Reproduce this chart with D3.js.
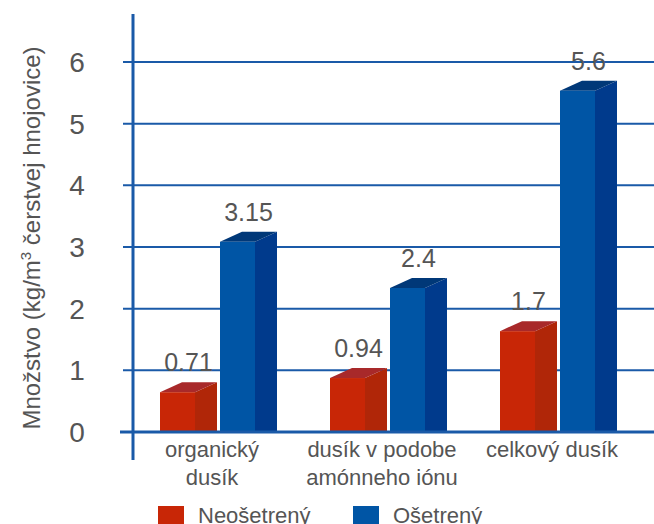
<!DOCTYPE html>
<html>
<head>
<meta charset="utf-8">
<script src="https://cdn.jsdelivr.net/npm/d3@7/dist/d3.min.js"></script>
<style>
  html, body { margin: 0; padding: 0; background: #fff; }
  svg { display: block; font-family: "Liberation Sans", Arial, sans-serif; }
</style>
</head>
<body>
<svg id="chart" width="654" height="524"></svg>
<script>
// Nitrogen content of fresh slurry, untreated vs treated
const categories = [["organický", "dusík"], ["dusík v podobe", "amónneho iónu"], ["celkový dusík"]];
const seriesNames = ["Neošetrený", "Ošetrený"];
const untreated = [0.71, 0.94, 1.7];
const treated = [3.15, 2.4, 5.6];
const yTicks = [0, 1, 2, 3, 4, 5, 6];

const svg = d3.select("#chart");
const W = 654, H = 524;
const plot = { left: 133, top: 62, bottom: 432 };

const x = d3.scaleBand().domain(d3.range(categories.length)).range([127, 637]);
const y = d3.scaleLinear().domain([0, 6]).range([plot.bottom, plot.top]);

const gridColor = "#1a5aa8";
const textColor = "#555555";
const depthX = 22, depthY = 10, faceW = 35;
const seriesOffset = [-52, 8];

const palette = [
  { front: "#c82606", side: "#b02608", top: "#a8292a" },
  { front: "#0055a5", side: "#003a8c", top: "#003878" }
];

// gridlines along the back wall
svg.append("g").selectAll("line").data(yTicks.filter(d => d > 0)).join("line")
  .attr("x1", plot.left - 10).attr("x2", W)
  .attr("y1", d => y(d)).attr("y2", d => y(d))
  .attr("stroke", gridColor).attr("stroke-width", 2);

// y axis labels
svg.append("g").selectAll("text").data(yTicks).join("text")
  .attr("x", 77).attr("y", d => y(d) + 10)
  .attr("text-anchor", "middle")
  .attr("font-size", 28).attr("fill", textColor)
  .text(d => d);

// 3D columns
const bars = [];
categories.forEach((c, i) => {
  const cx = x(i) + x.bandwidth() / 2;
  bars.push({ v: untreated[i], s: 0, x0: cx + seriesOffset[0] });
  bars.push({ v: treated[i], s: 1, x0: cx + seriesOffset[1] });
});

const gBars = svg.append("g");
bars.forEach(b => {
  const col = palette[b.s];
  const yt = y(b.v) + 4;
  const x0 = b.x0, x1 = b.x0 + faceW;
  const base = plot.bottom;
  // side face
  gBars.append("path")
    .attr("d", `M${x1},${yt} L${x1 + depthX},${yt - depthY} L${x1 + depthX},${base} L${x1},${base} Z`)
    .attr("fill", col.side);
  // top face
  gBars.append("path")
    .attr("d", `M${x0},${yt} L${x1},${yt} L${x1 + depthX},${yt - depthY} L${x0 + depthX},${yt - depthY} Z`)
    .attr("fill", col.top);
  // front face
  gBars.append("rect")
    .attr("x", x0).attr("y", yt).attr("width", faceW).attr("height", base - yt)
    .attr("fill", col.front);
  // value label
  gBars.append("text")
    .attr("x", x0 + (faceW + depthX) / 2).attr("y", yt - depthY - 11)
    .attr("text-anchor", "middle")
    .attr("font-size", 25).attr("fill", textColor)
    .text(b.v);
});

// baseline and vertical axis
svg.append("line")
  .attr("x1", plot.left - 13).attr("x2", W)
  .attr("y1", y(0)).attr("y2", y(0))
  .attr("stroke", gridColor).attr("stroke-width", 3);
svg.append("line")
  .attr("x1", plot.left).attr("x2", plot.left)
  .attr("y1", 14).attr("y2", 460)
  .attr("stroke", gridColor).attr("stroke-width", 3);

// category labels
const gCat = svg.append("g");
categories.forEach((lines, i) => {
  const cx = x(i) + x.bandwidth() / 2;
  const t = gCat.append("text")
    .attr("x", cx).attr("y", 457)
    .attr("text-anchor", "middle")
    .attr("font-size", 22).attr("fill", textColor);
  lines.forEach((ln, k) => {
    t.append("tspan").attr("x", cx).attr("dy", k === 0 ? 0 : 28).text(ln);
  });
});

// y axis title
const yTitle = svg.append("text")
  .attr("transform", "translate(40,238) rotate(-90)")
  .attr("text-anchor", "middle")
  .attr("font-size", 24).attr("fill", textColor);
yTitle.append("tspan").text("Množstvo (kg/m");
yTitle.append("tspan").attr("font-size", 15).attr("dy", -9).text("3");
yTitle.append("tspan").attr("dy", 9).text(" čerstvej hnojovice)");

// legend
const legendX = [158, 353];
seriesNames.forEach((name, i) => {
  svg.append("rect")
    .attr("x", legendX[i]).attr("y", 506).attr("width", 26).attr("height", 26)
    .attr("fill", palette[i].front);
  svg.append("text")
    .attr("x", legendX[i] + 40).attr("y", 523)
    .attr("font-size", 22).attr("fill", textColor)
    .text(name);
});
</script>
</body>
</html>
